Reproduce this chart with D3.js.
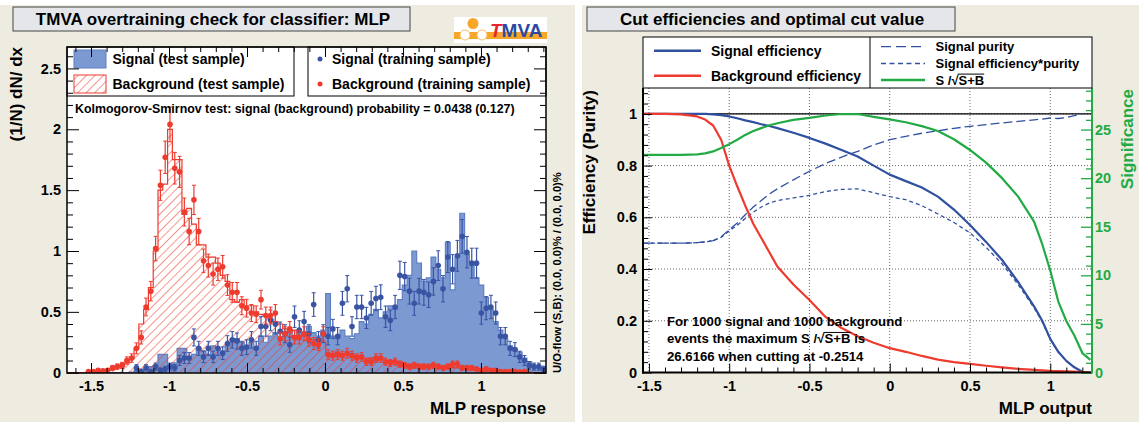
<!DOCTYPE html>
<html><head><meta charset="utf-8">
<script src="https://cdn.jsdelivr.net/npm/d3@7"></script>
<style>
body{margin:0;background:#fff;}
svg{display:block;}
</style></head><body>
<svg id="c" width="1139" height="422"></svg>
<script>
// ---------------- DATA ----------------
// Left: MLP response histograms, 100 bins over [histLo, histHi]
const histLo = -1.654, histHi = 1.417;
const sigTest = [
 0,0,0,0,0,0,0,0,0,0,
 0,0,0,0.005,0.02,0.03,0.03,0.05,0.06,0.15,
 0.15,0.05,0.08,0.2,0.2,0.12,0.15,0.2,0.18,0.15,
 0.22,0.2,0.18,0.22,0.25,0.28,0.25,0.22,0.25,0.2,
 0.3,0.25,0.3,0.33,0.28,0.3,0.35,0.3,0.33,0.3,
 0.38,0.33,0.3,0.35,0.65,0.3,0.28,0.35,0.3,0.28,
 0.32,0.42,0.4,0.48,0.52,0.45,0.5,0.55,0.52,0.6,
 0.72,0.8,1.0,0.9,0.75,0.78,0.95,0.85,0.78,1.07,
 0.68,0.95,1.31,0.97,0.88,0.78,0.72,0.62,0.52,0.42,
 0.35,0.28,0.22,0.2,0.17,0.12,0.09,0.05,0.04,0.02];
const bkgTest = [
 0,0,0,0,0.005,0.01,0.01,0.015,0.02,0.03,
 0.04,0.05,0.08,0.12,0.2,0.4,0.52,0.7,1.0,1.5,
 1.55,2.0,1.75,1.75,1.3,1.35,1.22,1.05,1.05,0.95,
 0.95,0.9,0.8,0.75,0.6,0.58,0.6,0.55,0.55,0.5,
 0.48,0.47,0.44,0.42,0.4,0.36,0.33,0.35,0.3,0.3,
 0.28,0.27,0.28,0.25,0.16,0.15,0.17,0.14,0.15,0.13,
 0.14,0.12,0.1,0.12,0.1,0.11,0.09,0.1,0.08,0.09,
 0.07,0.06,0.07,0.06,0.05,0.06,0.05,0.05,0.04,0.05,
 0.04,0.04,0.03,0.03,0.03,0.02,0.02,0.02,0.02,0.015,
 0.01,0.01,0.01,0.01,0.005,0.005,0.005,0,0,0];
const sigTrain = [
 0,0,0,0,0,0,0,0,0,0,
 0,0,0,0,0.04,0.01,0.04,0.01,0.05,0.02,
 0.03,0.05,0.04,0.1,0.12,0.12,0.29,0.2,0.13,0.2,
 0.13,0.2,0.16,0.24,0.27,0.26,0.2,0.21,0.27,0.2,
 0.38,0.38,0.43,0.4,0.34,0.32,0.23,0.46,0.35,0.42,
 0.32,0.56,0.27,0.32,0.3,0.36,0.3,0.57,0.69,0.38,
 0.54,0.54,0.45,0.57,0.61,0.62,0.46,0.43,0.54,0.8,
 0.79,0.67,0.57,0.67,0.66,0.64,0.75,0.88,0.69,0.95,
 0.85,0.96,1.12,0.99,0.9,0.9,0.49,0.53,0.54,0.49,
 0.3,0.3,0.2,0.19,0.13,0.1,0.06,0.05,0.05,0.03];
const sigTrainErr = [
 0,0,0,0,0,0,0,0,0,0,
 0,0,0,0,0.026,0.013,0.026,0.013,0.029,0.018,
 0.023,0.029,0.026,0.041,0.045,0.045,0.07,0.058,0.047,0.058,
 0.047,0.058,0.052,0.064,0.068,0.066,0.058,0.06,0.068,0.058,
 0.08,0.08,0.085,0.082,0.076,0.074,0.062,0.088,0.077,0.084,
 0.074,0.097,0.068,0.074,0.071,0.078,0.071,0.098,0.108,0.08,
 0.096,0.096,0.087,0.098,0.1,0.102,0.088,0.085,0.096,0.116,
 0.116,0.106,0.098,0.106,0.106,0.104,0.113,0.122,0.108,0.127,
 0.12,0.127,0.138,0.129,0.123,0.123,0.091,0.095,0.096,0.091,
 0.071,0.071,0.058,0.057,0.047,0.041,0.032,0.029,0.029,0.023];
const bkgTrain = [
 0,0,0,0,0.01,0.01,0.02,0.015,0.02,0.04,
 0.05,0.06,0.1,0.12,0.2,0.29,0.54,0.67,1.02,1.54,
 1.77,2.04,1.68,1.65,1.32,1.16,1.42,1.16,0.92,0.88,
 0.81,0.85,0.87,0.72,0.66,0.66,0.55,0.53,0.49,0.48,
 0.6,0.47,0.47,0.49,0.28,0.32,0.36,0.29,0.29,0.32,
 0.27,0.24,0.23,0.32,0.15,0.14,0.15,0.14,0.16,0.14,
 0.12,0.13,0.09,0.09,0.12,0.12,0.09,0.08,0.09,0.07,
 0.06,0.05,0.06,0.05,0.05,0.05,0.06,0.05,0.04,0.05,
 0.07,0.07,0.04,0.04,0.04,0.03,0.02,0.03,0.02,0.02,
 0.01,0.01,0.01,0.01,0.005,0.01,0,0,0,0];
const bkgTrainErr = [
 0,0,0,0,0.01,0.01,0.014,0.012,0.014,0.02,
 0.022,0.025,0.03,0.035,0.045,0.054,0.073,0.08,0.1,0.124,
 0.133,0.143,0.13,0.128,0.115,0.108,0.12,0.108,0.096,0.094,
 0.09,0.092,0.093,0.085,0.081,0.081,0.074,0.073,0.07,0.069,
 0.077,0.069,0.069,0.07,0.053,0.057,0.06,0.054,0.054,0.057,
 0.052,0.049,0.048,0.057,0.039,0.037,0.039,0.037,0.04,0.037,
 0.035,0.036,0.03,0.03,0.035,0.035,0.03,0.028,0.03,0.026,
 0.025,0.022,0.025,0.022,0.022,0.022,0.025,0.022,0.02,0.022,
 0.026,0.026,0.02,0.02,0.02,0.017,0.014,0.017,0.014,0.014,
 0.01,0.01,0.01,0.01,0.007,0.01,0,0,0,0];
const leftXTicks = [-1.5,-1,-0.5,0,0.5,1];
const leftYTicks = [0,0.5,1,1.5,2,2.5];

// Right: cut efficiencies vs MLP output
const cutX   = [-1.53,-1.4,-1.3,-1.2,-1.15,-1.1,-1.05,-1.0,-0.95,-0.9,-0.85,-0.8,-0.75,-0.7,-0.6,-0.5,-0.4,-0.3,-0.2,-0.1,0,0.1,0.2,0.3,0.4,0.5,0.6,0.7,0.8,0.9,0.95,1.0,1.05,1.1,1.15,1.2,1.25];
const sigEff = [1,1,1,1,1,0.998,0.995,0.99,0.983,0.975,0.968,0.96,0.953,0.945,0.927,0.907,0.885,0.86,0.835,0.80,0.765,0.74,0.715,0.68,0.63,0.57,0.505,0.435,0.35,0.255,0.2,0.13,0.08,0.045,0.02,0.003,0];
const bkgEff = [1,1,0.998,0.99,0.978,0.955,0.9,0.8,0.72,0.645,0.575,0.52,0.465,0.41,0.34,0.28,0.215,0.172,0.14,0.115,0.094,0.08,0.064,0.05,0.04,0.033,0.026,0.02,0.014,0.01,0.008,0.006,0.005,0.004,0.003,0.002,0.001];
const purity = [0.5,0.5,0.5,0.502,0.505,0.51,0.525,0.552,0.578,0.61,0.64,0.665,0.69,0.71,0.745,0.778,0.808,0.833,0.855,0.88,0.9,0.913,0.925,0.935,0.944,0.952,0.958,0.965,0.971,0.977,0.98,0.984,0.982,0.986,0.993,1.0,null];
const effPur = [0.5,0.5,0.5,0.502,0.505,0.509,0.523,0.547,0.569,0.595,0.62,0.64,0.655,0.665,0.675,0.685,0.70,0.708,0.71,0.695,0.68,0.668,0.645,0.613,0.58,0.54,0.484,0.42,0.34,0.249,0.196,0.128,0.079,0.044,0.02,0.003,0];
const signif = [22.4,22.4,22.4,22.45,22.55,22.75,23.1,23.5,23.95,24.45,24.85,25.15,25.45,25.65,26.0,26.2,26.45,26.6,26.6,26.3,26.05,25.75,25.35,24.85,24.0,22.9,21.6,20.0,18.1,15.5,13.2,10.5,7.3,5.3,3.8,2.0,1.3];
const maxSignif = 26.6166;
const rightXTicks = [-1.5,-1,-0.5,0,0.5,1];
const rightYTicks = [0,0.2,0.4,0.6,0.8,1];
const sigAxisTicks = [0,5,10,15,20,25];

// ---------------- STYLE ----------------
const FONT = '"Liberation Sans", Arial, Helvetica, sans-serif';
const BEIGE = "#EEEBE0";
const RED = "#EE3B2E";
const SIGFILL = "#7D99D1", SIGLINE = "#5F7FC4", SIGPT = "#3A54A4";
const BLUE = "#3050A0", GREEN = "#22AA44";

const svg = d3.select("#c").attr("font-family", FONT).attr("font-weight", "bold");
const defs = svg.append("defs");
const hatch = defs.append("pattern").attr("id","hatch").attr("patternUnits","userSpaceOnUse")
  .attr("width",6).attr("height",6).attr("patternTransform","rotate(45)");
hatch.append("line").attr("x1",0).attr("y1",-1).attr("x2",0).attr("y2",7).attr("stroke",RED).attr("stroke-width",1.1);

// backgrounds
svg.append("rect").attr("x",0).attr("y",5).attr("width",575).attr("height",417).attr("fill",BEIGE);
svg.append("rect").attr("x",582).attr("y",5).attr("width",557).attr("height",417).attr("fill",BEIGE);

function axis(gen, vals, size, opts = {}) {
  const a = gen.tickValues(vals).tickSize(size).tickPadding(opts.pad ?? 4)
    .tickFormat(opts.labels ? (d => String(Math.round(d * 100) / 100)) : () => "");
  const g = svg.append("g").attr("transform", opts.tr || null).call(a);
  g.select(".domain").remove();
  g.attr("font-family", FONT).attr("font-size", opts.fs || 14.5).attr("font-weight", "bold");
  g.selectAll(".tick line").attr("stroke", opts.color || "#000").attr("stroke-width", opts.sw || 1);
  g.selectAll(".tick text").attr("fill", opts.color || "#000");
  return g;
}
function titleBox(x, y, w, h, tx, label) {
  svg.append("rect").attr("x",x).attr("y",y).attr("width",w).attr("height",h)
    .attr("fill","#E4E6EA").attr("stroke","#444").attr("stroke-width",1);
  svg.append("text").attr("x",tx).attr("y",y+18).attr("text-anchor","middle")
    .attr("font-size",17).text(label);
}
function sqrtText(x, y, pre, rad, post, fs, color) {
  const t = svg.append("text").attr("x",x).attr("y",y).attr("font-size",fs).attr("fill",color||"#000")
    .text(pre + "\u221A" + rad + post);
  const n = t.node();
  const e0 = n.getExtentOfChar(pre.length);
  const e1 = n.getExtentOfChar(pre.length + rad.length);
  const yt = y - fs * 0.8;
  svg.append("line").attr("x1", e0.x + e0.width - 0.8).attr("x2", e1.x + e1.width)
    .attr("y1", yt).attr("y2", yt).attr("stroke", color||"#000").attr("stroke-width", 1);
}

// ================= LEFT PANEL =================
const xL = d3.scaleLinear().domain([histLo, histHi]).range([67, 546]);
const yL = d3.scaleLinear().domain([0, 2.676]).range([372.7, 47]);
titleBox(13, 7, 397, 24, 213, "TMVA overtraining check for classifier: MLP");

// TMVA logo
const logo = svg.append("g");
logo.append("rect").attr("x",454).attr("y",17).attr("width",93).attr("height",26).attr("fill","#fff");
logo.append("rect").attr("x",454).attr("y",32).attr("width",93).attr("height",7).attr("fill","#F6A72A");
logo.append("circle").attr("cx",473).attr("cy",23.5).attr("r",5.5).attr("fill","#F6A72A");
logo.append("circle").attr("cx",465).attr("cy",35).attr("r",5).attr("fill","#fff").attr("stroke","#F6C063").attr("stroke-width",1);
logo.append("circle").attr("cx",482).attr("cy",35).attr("r",5).attr("fill","#fff").attr("stroke","#F6C063").attr("stroke-width",1);
const lt = logo.append("text").attr("x",490).attr("y",37).attr("font-size",19);
lt.append("tspan").attr("fill","#E8262B").attr("font-style","italic").text("T");
lt.append("tspan").attr("fill","#2C4AA0").text("MVA");

svg.append("rect").attr("x",67).attr("y",47).attr("width",479).attr("height",326).attr("fill","#fff");
defs.append("clipPath").attr("id","clipL").append("rect").attr("x",67).attr("y",47).attr("width",479).attr("height",326);

const nb = sigTest.length, bw = (histHi - histLo) / nb;
const edges = d3.range(nb + 1).map(i => histLo + i * bw);
function stepPts(vals) {
  const p = [{x: edges[0], v: 0}];
  vals.forEach((v, i) => p.push({x: edges[i], v}));
  p.push({x: edges[nb], v: vals[nb-1]});
  p.push({x: edges[nb], v: 0});
  return p;
}
const areaL = d3.area().curve(d3.curveStepAfter).x(d => xL(d.x)).y0(yL(0)).y1(d => yL(d.v));
const lineL = d3.line().curve(d3.curveStepAfter).x(d => xL(d.x)).y(d => yL(d.v));
const gL = svg.append("g").attr("clip-path","url(#clipL)");
gL.append("path").attr("d", areaL(stepPts(sigTest))).attr("fill", SIGFILL);
gL.append("path").attr("d", lineL(stepPts(sigTest))).attr("fill","none").attr("stroke",SIGLINE).attr("stroke-width",1.2);
gL.append("path").attr("d", areaL(stepPts(bkgTest))).attr("fill","url(#hatch)");
gL.append("path").attr("d", lineL(stepPts(bkgTest))).attr("fill","none").attr("stroke",RED).attr("stroke-width",1.2);

function points(vals, errs, color) {
  const data = vals.map((v, i) => ({c: histLo + (i + 0.5) * bw, v, e: errs[i]})).filter(d => d.v > 0);
  const g = gL.append("g");
  g.selectAll("line.eb").data(data).join("line").attr("x1", d => xL(d.c)).attr("x2", d => xL(d.c))
    .attr("y1", d => yL(d.v - d.e)).attr("y2", d => yL(d.v + d.e)).attr("stroke", color).attr("stroke-width",1.2);
  g.selectAll("line.ct").data(data).join("line").attr("x1", d => xL(d.c) - 2).attr("x2", d => xL(d.c) + 2)
    .attr("y1", d => yL(d.v + d.e)).attr("y2", d => yL(d.v + d.e)).attr("stroke", color).attr("stroke-width",1);
  g.selectAll("line.cb").data(data).join("line").attr("x1", d => xL(d.c) - 2).attr("x2", d => xL(d.c) + 2)
    .attr("y1", d => yL(d.v - d.e)).attr("y2", d => yL(d.v - d.e)).attr("stroke", color).attr("stroke-width",1);
  g.selectAll("circle").data(data).join("circle").attr("cx", d => xL(d.c)).attr("cy", d => yL(d.v))
    .attr("r", 2.8).attr("fill", color);
}
points(sigTrain, sigTrainErr, SIGPT);
points(bkgTrain, bkgTrainErr, RED);

// legends
svg.append("rect").attr("x",67).attr("y",47).attr("width",227).attr("height",49).attr("fill","#fff").attr("stroke","#000");
svg.append("rect").attr("x",308).attr("y",47).attr("width",238).attr("height",49).attr("fill","#fff").attr("stroke","#000");
svg.append("rect").attr("x",74).attr("y",50).attr("width",32).attr("height",18).attr("fill",SIGFILL).attr("stroke",SIGLINE);
svg.append("rect").attr("x",74).attr("y",75).attr("width",32).attr("height",18).attr("fill","url(#hatch)").attr("stroke",RED);
svg.append("text").attr("x",112.5).attr("y",59).attr("dy","0.35em").attr("font-size",14).text("Signal (test sample)");
svg.append("text").attr("x",112.5).attr("y",84).attr("dy","0.35em").attr("font-size",14).text("Background (test sample)");
svg.append("circle").attr("cx",320).attr("cy",59).attr("r",2.5).attr("fill",SIGPT);
svg.append("circle").attr("cx",320).attr("cy",84).attr("r",2.5).attr("fill",RED);
svg.append("text").attr("x",332).attr("y",59).attr("dy","0.35em").attr("font-size",14).text("Signal (training sample)");
svg.append("text").attr("x",332).attr("y",84).attr("dy","0.35em").attr("font-size",14).text("Background (training sample)");
svg.append("text").attr("x",75).attr("y",113).attr("font-size",12.4)
  .text("Kolmogorov-Smirnov test: signal (background) probability = 0.0438 (0.127)");

// axes left
const minorX = d3.range(-16, 15).map(k => k / 10).filter(v => Math.abs(v * 2 - Math.round(v * 2)) > 1e-6);
const minorY = d3.range(0, 27).map(k => k / 10).filter(v => Math.abs(v * 2 - Math.round(v * 2)) > 1e-6);
axis(d3.axisBottom(xL), leftXTicks, -10, {tr: "translate(0,373)", labels: true, pad: 8});
axis(d3.axisBottom(xL), minorX, -5, {tr: "translate(0,373)"});
axis(d3.axisTop(xL), leftXTicks, -10, {tr: "translate(0,47)"});
axis(d3.axisTop(xL), minorX, -5, {tr: "translate(0,47)"});
axis(d3.axisLeft(yL), leftYTicks, -12, {tr: "translate(67,0)", labels: true, pad: 6});
axis(d3.axisLeft(yL), minorY, -6, {tr: "translate(67,0)"});
axis(d3.axisRight(yL), leftYTicks, -12, {tr: "translate(546,0)"});
axis(d3.axisRight(yL), minorY, -6, {tr: "translate(546,0)"});
svg.append("rect").attr("x",67).attr("y",47).attr("width",479).attr("height",326).attr("fill","none").attr("stroke","#000").attr("stroke-width",1.5);

svg.append("text").attr("transform","translate(22,47) rotate(-90)").attr("text-anchor","end").attr("font-size",17).text("(1/N) dN/ dx");
svg.append("text").attr("x",546).attr("y",414).attr("text-anchor","end").attr("font-size",17).text("MLP response");
svg.append("text").attr("transform","translate(561,373) rotate(-90)").attr("font-size",11.2).attr("font-weight","bold")
  .text("U/O-flow (S,B): (0.0, 0.0)% / (0.0, 0.0)%");

// ================= RIGHT PANEL =================
const xR = d3.scaleLinear().domain([-1.537, 1.26]).range([643, 1092]);
const yR = d3.scaleLinear().domain([0, 1.1]).range([372.5, 88]);
const yS = d3.scaleLinear().domain([0, 1.1 * maxSignif]).range([372.5, 88]);
titleBox(587, 7, 368, 24, 772, "Cut efficiencies and optimal cut value");

svg.append("rect").attr("x",643).attr("y",88).attr("width",449).attr("height",284.5).attr("fill","#fff");
defs.append("clipPath").attr("id","clipR").append("rect").attr("x",643).attr("y",88).attr("width",449).attr("height",284.5);
const gR = svg.append("g");
// grid
gR.selectAll("line.gx").data(rightXTicks).join("line").attr("x1", d => xR(d)).attr("x2", d => xR(d))
  .attr("y1", 88).attr("y2", 372.5).attr("stroke","#444").attr("stroke-width",0.8).attr("stroke-dasharray","1,2");
gR.selectAll("line.gy").data(rightYTicks.slice(1)).join("line").attr("y1", d => yR(d)).attr("y2", d => yR(d))
  .attr("x1", 643).attr("x2", 1092).attr("stroke","#444").attr("stroke-width",0.8).attr("stroke-dasharray","1,2");
gR.append("line").attr("x1",643).attr("x2",1092).attr("y1",yR(1)).attr("y2",yR(1)).attr("stroke","#000").attr("stroke-width",1.3);

const gC = svg.append("g").attr("clip-path","url(#clipR)");
function curve(vals, scale, color, w, dash) {
  const pts = cutX.map((x, i) => ({x, v: vals[i]}));
  const ln = d3.line().defined(d => d.v != null).x(d => xR(d.x)).y(d => scale(d.v));
  gC.append("path").attr("d", ln(pts)).attr("fill","none").attr("stroke",color).attr("stroke-width",w)
    .attr("stroke-dasharray", dash || null).attr("stroke-linejoin","round");
}
curve(purity, yR, BLUE, 1.3, "9,4");
curve(effPur, yR, BLUE, 1.3, "4,3");
curve(sigEff, yR, BLUE, 2.2);
curve(bkgEff, yR, RED, 2.2);
curve(signif, yS, GREEN, 2.2);

const minorRX = d3.range(-15, 13).map(k => k / 10).filter(v => Math.abs(v * 2 - Math.round(v * 2)) > 1e-6);
const minorRY = d3.range(0, 28).map(k => k * 0.04).filter(v => Math.abs(v * 5 - Math.round(v * 5)) > 1e-6);
const minorS = d3.range(0, 30).filter(v => v % 5 !== 0);
axis(d3.axisBottom(xR), rightXTicks, -9, {tr: "translate(0,372.5)", labels: true, pad: 8});
axis(d3.axisBottom(xR), minorRX, -5, {tr: "translate(0,372.5)"});
axis(d3.axisLeft(yR), rightYTicks, -9, {tr: "translate(643,0)", labels: true, pad: 6});
axis(d3.axisLeft(yR), minorRY, -5, {tr: "translate(643,0)"});
axis(d3.axisRight(yS), sigAxisTicks, -11, {tr: "translate(1092,0)", labels: true, pad: 3, color: GREEN, sw: 1.3});
axis(d3.axisRight(yS), minorS, -6, {tr: "translate(1092,0)", color: GREEN, sw: 1.3});
svg.append("line").attr("x1",643).attr("x2",643).attr("y1",88).attr("y2",373.5).attr("stroke","#000").attr("stroke-width",2);
svg.append("line").attr("x1",642).attr("x2",1092).attr("y1",372.5).attr("y2",372.5).attr("stroke","#000").attr("stroke-width",2);
svg.append("line").attr("x1",1092).attr("x2",1092).attr("y1",88).attr("y2",373.5).attr("stroke",GREEN).attr("stroke-width",2);

// legend right
svg.append("rect").attr("x",643).attr("y",37).attr("width",449).attr("height",51).attr("fill","#fff").attr("stroke","#000");
svg.append("line").attr("x1",870).attr("x2",870).attr("y1",37).attr("y2",88).attr("stroke","#000");
svg.append("line").attr("x1",654).attr("x2",701).attr("y1",50.7).attr("y2",50.7).attr("stroke",BLUE).attr("stroke-width",2.5);
svg.append("line").attr("x1",654).attr("x2",701).attr("y1",75.7).attr("y2",75.7).attr("stroke",RED).attr("stroke-width",2.5);
svg.append("text").attr("x",711).attr("y",50.7).attr("dy","0.35em").attr("font-size",14).text("Signal efficiency");
svg.append("text").attr("x",711).attr("y",75.7).attr("dy","0.35em").attr("font-size",14).text("Background efficiency");
svg.append("line").attr("x1",881).attr("x2",925).attr("y1",46.7).attr("y2",46.7).attr("stroke",BLUE).attr("stroke-width",1.3).attr("stroke-dasharray","10,5");
svg.append("line").attr("x1",881).attr("x2",925).attr("y1",63.5).attr("y2",63.5).attr("stroke",BLUE).attr("stroke-width",1.3).attr("stroke-dasharray","5,3.5");
svg.append("line").attr("x1",881).attr("x2",925).attr("y1",80).attr("y2",80).attr("stroke",GREEN).attr("stroke-width",2.5);
svg.append("text").attr("x",935.5).attr("y",46.7).attr("dy","0.35em").attr("font-size",13).text("Signal purity");
svg.append("text").attr("x",935.5).attr("y",63.5).attr("dy","0.35em").attr("font-size",13).text("Signal efficiency*purity");
sqrtText(935.5, 84.5, "S /", "S+B", "", 13);

// annotation
svg.append("text").attr("x",667).attr("y",325.5).attr("font-size",13.2).text("For 1000 signal and 1000 background");
sqrtText(667, 343, "events the maximum S /", "S+B", " is", 13.2);
svg.append("text").attr("x",667).attr("y",360.5).attr("font-size",13.2).text("26.6166 when cutting at -0.2514");

svg.append("text").attr("transform","translate(595,90) rotate(-90)").attr("text-anchor","end").attr("font-size",17).text("Efficiency (Purity)");
svg.append("text").attr("transform","translate(1133,89) rotate(-90)").attr("text-anchor","end").attr("font-size",17).attr("fill",GREEN).text("Significance");
svg.append("text").attr("x",1092).attr("y",414).attr("text-anchor","end").attr("font-size",17).text("MLP output");
</script></body></html>
